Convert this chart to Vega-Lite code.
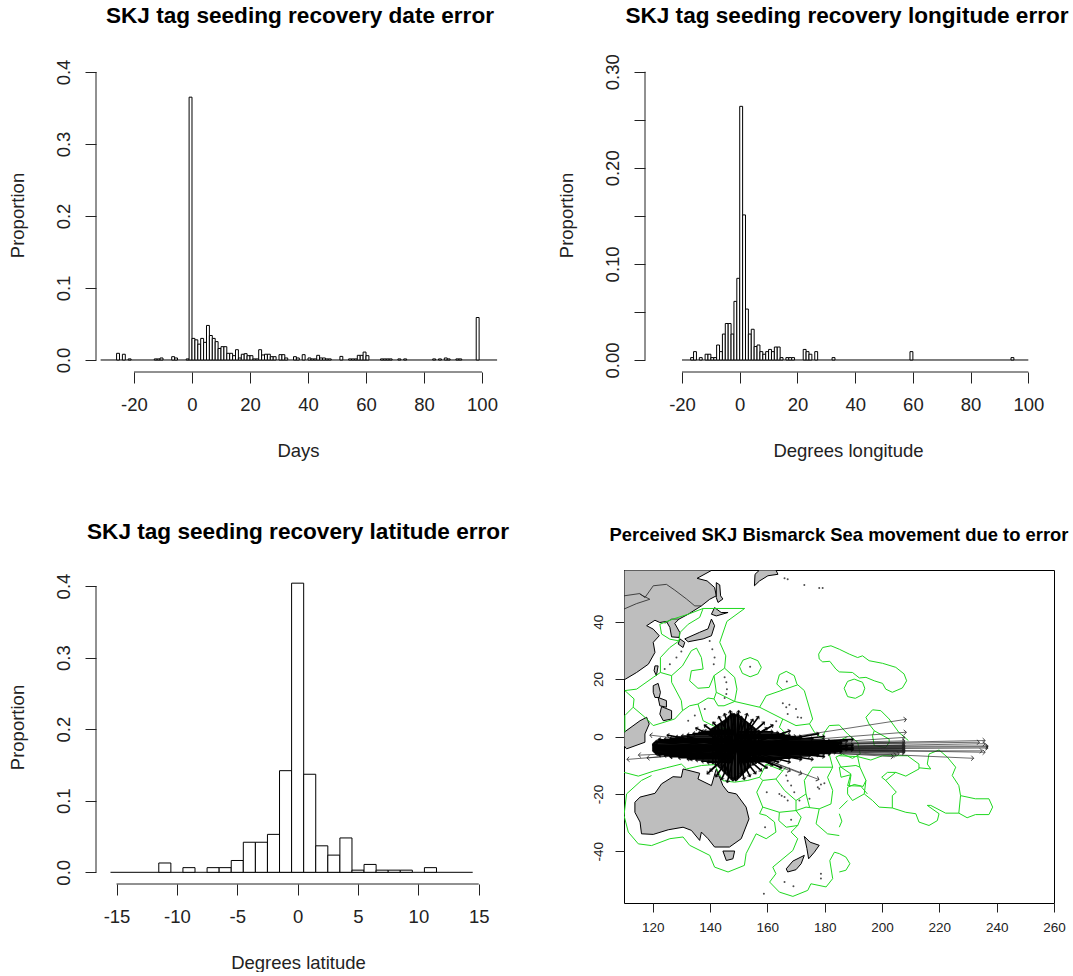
{
"$schema":"https://vega.github.io/schema/vega-lite/v6.json",
"padding":{"left":8,"top":5,"right":0,"bottom":0},
"background":"white",
"config":{"font":"Liberation Sans","view":{"stroke":null},
"axis":{"grid":false,"domain":false,"tickColor":"#222","tickSize":11,"tickWidth":1,"labelColor":"#222","titleColor":"#222","labelFont":"Liberation Sans","titleFont":"Liberation Sans","labelFontSize":18.5,"titleFontSize":18.5,"titleFontWeight":"normal","labelFlush":false,"labelOverlap":false},
"title":{"font":"Liberation Sans","fontWeight":"bold","fontSize":22.6,"color":"black","anchor":"middle"}},
"bounds":"flush",
"columns":2,
"spacing":{"row":198,"column":124},
"concat":[
{"width":404,"height":314,
"title":{"text":"SKJ tag seeding recovery date error","offset":30,"dx":2},
"encoding":{"x":{"field":"x","type":"quantitative","title":"Days","scale":{"domain":[-33.1,106.2],"nice":false,"zero":false},"axis":{"values":[-20,0,20,40,60,80,100],"labelPadding":12,"titlePadding":28,"labelExpr":"replace(datum.label,'\u2212','-')"}},
"y":{"field":"y","type":"quantitative","title":"Proportion","scale":{"domain":[-0.01667,0.4194],"nice":false,"zero":false},"axis":{"values":[0,0.1,0.2,0.3,0.4],"labelAngle":-90,"labelPadding":12,"titlePadding":26.5,"format":".1f"}}},
"layer":[
{"data":{"values":[{"x":-31.5,"xe":105.2,"y":0}]},"mark":{"type":"rule","color":"black"},"encoding":{"x2":{"field":"xe"}}},
{"data":{"values":[{"x":-26,"xe":-25,"y":0.0093},{"x":-24,"xe":-23,"y":0.008},{"x":-22,"xe":-21,"y":0.0015},{"x":-13,"xe":-12,"y":0.0015},{"x":-12,"xe":-11,"y":0.0015},{"x":-11,"xe":-10,"y":0.0028},{"x":-7,"xe":-6,"y":0.0046},{"x":-6,"xe":-5,"y":0.0028},{"x":-2,"xe":-1,"y":0.0015},{"x":-1,"xe":0,"y":0.365},{"x":0,"xe":1,"y":0.03},{"x":1,"xe":2,"y":0.028},{"x":2,"xe":3,"y":0.022},{"x":3,"xe":4,"y":0.03},{"x":4,"xe":5,"y":0.0245},{"x":5,"xe":6,"y":0.048},{"x":6,"xe":7,"y":0.034},{"x":7,"xe":8,"y":0.03},{"x":8,"xe":9,"y":0.0255},{"x":9,"xe":10,"y":0.016},{"x":10,"xe":11,"y":0.0185},{"x":11,"xe":12,"y":0.0185},{"x":12,"xe":13,"y":0.0093},{"x":13,"xe":14,"y":0.0093},{"x":14,"xe":15,"y":0.006},{"x":15,"xe":16,"y":0.0143},{"x":16,"xe":17,"y":0.0028},{"x":17,"xe":18,"y":0.008},{"x":18,"xe":19,"y":0.0088},{"x":19,"xe":20,"y":0.006},{"x":20,"xe":21,"y":0.006},{"x":21,"xe":22,"y":0.0015},{"x":22,"xe":23,"y":0.0015},{"x":23,"xe":24,"y":0.0143},{"x":24,"xe":25,"y":0.007},{"x":25,"xe":26,"y":0.008},{"x":26,"xe":27,"y":0.008},{"x":27,"xe":28,"y":0.0046},{"x":28,"xe":29,"y":0.0046},{"x":30,"xe":31,"y":0.0074},{"x":31,"xe":32,"y":0.0074},{"x":32,"xe":33,"y":0.0028},{"x":35,"xe":36,"y":0.0046},{"x":36,"xe":37,"y":0.0028},{"x":38,"xe":39,"y":0.0074},{"x":40,"xe":41,"y":0.0028},{"x":41,"xe":42,"y":0.0015},{"x":42,"xe":43,"y":0.0015},{"x":43,"xe":44,"y":0.0065},{"x":44,"xe":45,"y":0.0028},{"x":45,"xe":46,"y":0.0028},{"x":46,"xe":47,"y":0.0015},{"x":47,"xe":48,"y":0.0015},{"x":51,"xe":52,"y":0.005},{"x":54,"xe":55,"y":0.0015},{"x":55,"xe":56,"y":0.0015},{"x":56,"xe":57,"y":0.0015},{"x":57,"xe":58,"y":0.0065},{"x":58,"xe":59,"y":0.0065},{"x":59,"xe":60,"y":0.011},{"x":60,"xe":61,"y":0.006},{"x":65,"xe":66,"y":0.0015},{"x":66,"xe":67,"y":0.0015},{"x":67,"xe":68,"y":0.0015},{"x":68,"xe":69,"y":0.0015},{"x":71,"xe":72,"y":0.0015},{"x":73,"xe":74,"y":0.0015},{"x":83,"xe":84,"y":0.0015},{"x":85,"xe":86,"y":0.0015},{"x":87,"xe":88,"y":0.0028},{"x":88,"xe":89,"y":0.0015},{"x":91,"xe":92,"y":0.0015},{"x":92,"xe":93,"y":0.0015},{"x":98,"xe":99,"y":0.059}]},"mark":{"type":"rect","fill":"white","stroke":"black","strokeWidth":1},"encoding":{"x2":{"field":"xe"},"y2":{"datum":0}}},
{"data":{"values":[{"x":-20,"xe":100,"y":-0.01667}]},"mark":{"type":"rule","color":"#222"},"encoding":{"x2":{"field":"xe"}}},
{"data":{"values":[{"x":-33.1,"y":0,"ye":0.4}]},"mark":{"type":"rule","color":"#222"},"encoding":{"y2":{"field":"ye"}}}
]},
{"width":430,"height":314,
"title":{"text":"SKJ tag seeding recovery longitude error","offset":26,"dx":8},
"encoding":{"x":{"field":"x","type":"quantitative","title":"Degrees longitude","scale":{"domain":[-40.1,108.9],"nice":false,"zero":false},"axis":{"values":[-20,0,20,40,60,80,100],"labelPadding":12,"titlePadding":28,"titleX":224,"labelExpr":"replace(datum.label,'\u2212','-')"}},
"y":{"field":"y","type":"quantitative","title":"Proportion","scale":{"domain":[-0.01249,0.3143],"nice":false,"zero":false},"axis":{"offset":-21,"values":[0,0.05,0.1,0.15,0.2,0.25,0.3],"labelAngle":-90,"labelPadding":12,"titlePadding":27,"format":".2f","labelExpr":"indexof(['0.00','0.10','0.20','0.30'],datum.label)>=0?datum.label:''"}}},
"layer":[
{"data":{"values":[{"x":-20,"xe":100,"y":0}]},"mark":{"type":"rule","color":"black"},"encoding":{"x2":{"field":"xe"}}},
{"data":{"values":[{"x":-17,"xe":-16,"y":0.0025},{"x":-16,"xe":-15,"y":0.0087},{"x":-14,"xe":-13,"y":0.0025},{"x":-12,"xe":-11,"y":0.006},{"x":-11,"xe":-10,"y":0.006},{"x":-10,"xe":-9,"y":0.0025},{"x":-9,"xe":-8,"y":0.0025},{"x":-8,"xe":-7,"y":0.0156},{"x":-7,"xe":-6,"y":0.0087},{"x":-6,"xe":-5,"y":0.027},{"x":-5,"xe":-4,"y":0.038},{"x":-4,"xe":-3,"y":0.038},{"x":-3,"xe":-2,"y":0.027},{"x":-2,"xe":-1,"y":0.061},{"x":-1,"xe":0,"y":0.085},{"x":0,"xe":1,"y":0.264},{"x":1,"xe":2,"y":0.151},{"x":2,"xe":3,"y":0.053},{"x":3,"xe":4,"y":0.027},{"x":4,"xe":5,"y":0.032},{"x":5,"xe":6,"y":0.014},{"x":6,"xe":7,"y":0.0156},{"x":7,"xe":8,"y":0.0087},{"x":8,"xe":9,"y":0.006},{"x":9,"xe":10,"y":0.0087},{"x":10,"xe":11,"y":0.011},{"x":11,"xe":12,"y":0.0087},{"x":12,"xe":13,"y":0.0135},{"x":13,"xe":14,"y":0.0135},{"x":14,"xe":15,"y":0.0025},{"x":16,"xe":17,"y":0.0025},{"x":17,"xe":18,"y":0.0025},{"x":18,"xe":19,"y":0.0025},{"x":22,"xe":23,"y":0.011},{"x":23,"xe":24,"y":0.0087},{"x":24,"xe":25,"y":0.006},{"x":26,"xe":27,"y":0.0087},{"x":32,"xe":33,"y":0.0025},{"x":59,"xe":60,"y":0.0087},{"x":94,"xe":95,"y":0.0025}]},"mark":{"type":"rect","fill":"white","stroke":"black","strokeWidth":1},"encoding":{"x2":{"field":"xe"},"y2":{"datum":0}}},
{"data":{"values":[{"x":-20,"xe":100,"y":-0.01249}]},"mark":{"type":"rule","color":"#222"},"encoding":{"x2":{"field":"xe"}}},
{"data":{"values":[{"x":-32.82,"y":0,"ye":0.3}]},"mark":{"type":"rule","color":"#222"},"encoding":{"y2":{"field":"ye"}}}
]},
{"width":404,"height":314,
"title":{"text":"SKJ tag seeding recovery latitude error","offset":26},
"encoding":{"x":{"field":"x","type":"quantitative","title":"Degrees latitude","scale":{"domain":[-16.7,16.76],"nice":false,"zero":false},"axis":{"values":[-15,-10,-5,0,5,10,15],"labelPadding":12,"titlePadding":28,"labelExpr":"replace(datum.label,'\u2212','-')"}},
"y":{"field":"y","type":"quantitative","title":"Proportion","scale":{"domain":[-0.01635,0.4224],"nice":false,"zero":false},"axis":{"values":[0,0.1,0.2,0.3,0.4],"labelAngle":-90,"labelPadding":12,"titlePadding":26.5,"format":".1f"}}},
"layer":[
{"data":{"values":[{"x":-15.5,"xe":14.5,"y":0}]},"mark":{"type":"rule","color":"black"},"encoding":{"x2":{"field":"xe"}}},
{"data":{"values":[{"x":-11.5,"xe":-10.5,"y":0.013},{"x":-9.5,"xe":-8.5,"y":0.0065},{"x":-7.5,"xe":-6.5,"y":0.0065},{"x":-6.5,"xe":-5.5,"y":0.0065},{"x":-5.5,"xe":-4.5,"y":0.0165},{"x":-4.5,"xe":-3.5,"y":0.042},{"x":-3.5,"xe":-2.5,"y":0.042},{"x":-2.5,"xe":-1.5,"y":0.053},{"x":-1.5,"xe":-0.5,"y":0.142},{"x":-0.5,"xe":0.5,"y":0.404},{"x":0.5,"xe":1.5,"y":0.137},{"x":1.5,"xe":2.5,"y":0.037},{"x":2.5,"xe":3.5,"y":0.024},{"x":3.5,"xe":4.5,"y":0.048},{"x":4.5,"xe":5.5,"y":0.003},{"x":5.5,"xe":6.5,"y":0.011},{"x":6.5,"xe":7.5,"y":0.003},{"x":7.5,"xe":8.5,"y":0.003},{"x":8.5,"xe":9.5,"y":0.003},{"x":10.5,"xe":11.5,"y":0.0065}]},"mark":{"type":"rect","fill":"white","stroke":"black","strokeWidth":1},"encoding":{"x2":{"field":"xe"},"y2":{"datum":0}}},
{"data":{"values":[{"x":-15,"xe":15,"y":-0.01635}]},"mark":{"type":"rule","color":"#222"},"encoding":{"x2":{"field":"xe"}}},
{"data":{"values":[{"x":-16.7,"y":0,"ye":0.4}]},"mark":{"type":"rule","color":"#222"},"encoding":{"y2":{"field":"ye"}}}
]},
{"width":430,"height":333,
"view":{"stroke":"black","strokeWidth":1},
"title":{"text":"Perceived SKJ Bismarck Sea movement due to error","fontSize":18.4,"offset":26},
"encoding":{"x":{"field":"x","type":"quantitative","title":null,"scale":{"domain":[110,260],"nice":false,"zero":false},"axis":{"values":[120,140,160,180,200,220,240,260],"labelFontSize":13.5,"tickSize":9,"labelPadding":8}},
"y":{"field":"y","type":"quantitative","title":null,"scale":{"domain":[-58,58],"nice":false,"zero":false},"axis":{"values":[-40,-20,0,20,40],"labelFontSize":13.5,"tickSize":9,"labelAngle":-90,"labelPadding":10,"labelExpr":"replace(datum.label,'\u2212','-')"}}},
"layer":[
{"data":{"values":[
{"g":"asia","x":140.8,"y":58},{"g":"asia","x":135.5,"y":55.1},{"g":"asia","x":139,"y":54.2},{"g":"asia","x":141.6,"y":51.9},{"g":"asia","x":142.2,"y":49},{"g":"asia","x":139.9,"y":47.8},{"g":"asia","x":137,"y":45.5},{"g":"asia","x":132.4,"y":42.6},{"g":"asia","x":129.2,"y":40.9},{"g":"asia","x":127.7,"y":39.4},{"g":"asia","x":129.5,"y":36.2},{"g":"asia","x":129.2,"y":34.5},{"g":"asia","x":126.6,"y":34.7},{"g":"asia","x":126,"y":38},{"g":"asia","x":124.8,"y":40.1},{"g":"asia","x":122.5,"y":39.7},{"g":"asia","x":120.8,"y":40.5},{"g":"asia","x":117.9,"y":38.6},{"g":"asia","x":120.2,"y":37.4},{"g":"asia","x":122.3,"y":35.1},{"g":"asia","x":120.2,"y":32.8},{"g":"asia","x":120.8,"y":29.3},{"g":"asia","x":118.5,"y":25.2},{"g":"asia","x":114.4,"y":22.3},{"g":"asia","x":110,"y":19.7},{"g":"asia","x":110,"y":58},{"g":"asia","x":140.8,"y":58},
{"g":"kam","x":155.5,"y":52.5},{"g":"kam","x":155.7,"y":56.5},{"g":"kam","x":157.3,"y":58},{"g":"kam","x":163,"y":58},{"g":"kam","x":163.7,"y":56.5},{"g":"kam","x":160.2,"y":56},{"g":"kam","x":157.3,"y":54.2},{"g":"kam","x":155.5,"y":52.5},
{"g":"sak","x":142.2,"y":53.6},{"g":"sak","x":143.4,"y":52.8},{"g":"sak","x":143.7,"y":49},{"g":"sak","x":144.5,"y":47.9},{"g":"sak","x":142.8,"y":46.7},{"g":"sak","x":142.2,"y":48.4},{"g":"sak","x":142.2,"y":53.6},
{"g":"hok","x":141.6,"y":44.9},{"g":"hok","x":143.9,"y":43.2},{"g":"hok","x":146.3,"y":43.2},{"g":"hok","x":142.2,"y":42},{"g":"hok","x":140.5,"y":42.6},{"g":"hok","x":141.6,"y":44.9},
{"g":"hon","x":140.5,"y":40.9},{"g":"hon","x":141.6,"y":38.6},{"g":"hon","x":140.5,"y":35.1},{"g":"hon","x":137.6,"y":34},{"g":"hon","x":132.4,"y":33},{"g":"hon","x":131.2,"y":34},{"g":"hon","x":136.4,"y":36.3},{"g":"hon","x":139.3,"y":37.5},{"g":"hon","x":140.5,"y":40.9},
{"g":"kyu","x":129.5,"y":34},{"g":"kyu","x":131.2,"y":32.8},{"g":"kyu","x":130.6,"y":31},{"g":"kyu","x":128.9,"y":32.2},{"g":"kyu","x":129.5,"y":34},
{"g":"tai","x":120.8,"y":24.6},{"g":"tai","x":121.9,"y":24.6},{"g":"tai","x":121.3,"y":21.2},{"g":"tai","x":120.5,"y":22.9},{"g":"tai","x":120.8,"y":24.6},
{"g":"luz","x":120.2,"y":17.7},{"g":"luz","x":121.9,"y":18.5},{"g":"luz","x":122.7,"y":15.4},{"g":"luz","x":122.3,"y":13.6},{"g":"luz","x":120.8,"y":13.6},{"g":"luz","x":120.2,"y":15.4},{"g":"luz","x":120.2,"y":17.7},
{"g":"vis","x":121.9,"y":13.6},{"g":"vis","x":124.8,"y":12.5},{"g":"vis","x":124.8,"y":10.2},{"g":"vis","x":122.5,"y":10.7},{"g":"vis","x":121.9,"y":13.6},
{"g":"min","x":123.1,"y":10.4},{"g":"min","x":126.6,"y":9},{"g":"min","x":126.6,"y":6.1},{"g":"min","x":123.7,"y":5.5},{"g":"min","x":122.5,"y":7.8},{"g":"min","x":123.1,"y":10.4},
{"g":"bor","x":110,"y":1.45},{"g":"bor","x":115.6,"y":5.5},{"g":"bor","x":117.9,"y":6.7},{"g":"bor","x":118.8,"y":4.35},{"g":"bor","x":117.3,"y":0.9},{"g":"bor","x":117.3,"y":-2},{"g":"bor","x":110.9,"y":-4.3},{"g":"bor","x":110,"y":-3.2},{"g":"bor","x":110,"y":1.45},
{"g":"aus","x":113.8,"y":-22.9},{"g":"aus","x":115.6,"y":-21.1},{"g":"aus","x":120.8,"y":-19.8},{"g":"aus","x":123.1,"y":-16.5},{"g":"aus","x":127.1,"y":-14},{"g":"aus","x":130,"y":-14.2},{"g":"aus","x":130.6,"y":-11.3},{"g":"aus","x":136.4,"y":-12.8},{"g":"aus","x":135.8,"y":-14.8},{"g":"aus","x":140.5,"y":-17.1},{"g":"aus","x":142.2,"y":-11.3},{"g":"aus","x":144.5,"y":-17.1},{"g":"aus","x":146.3,"y":-19.4},{"g":"aus","x":149.2,"y":-20},{"g":"aus","x":152.6,"y":-24.6},{"g":"aus","x":153.6,"y":-28.7},{"g":"aus","x":150.9,"y":-35.6},{"g":"aus","x":146.8,"y":-38.5},{"g":"aus","x":141.6,"y":-38.5},{"g":"aus","x":139.3,"y":-35.6},{"g":"aus","x":137,"y":-33.3},{"g":"aus","x":136.4,"y":-36.2},{"g":"aus","x":133.5,"y":-32.7},{"g":"aus","x":130.6,"y":-31.6},{"g":"aus","x":125.4,"y":-32.5},{"g":"aus","x":120.2,"y":-34.1},{"g":"aus","x":116.1,"y":-33.9},{"g":"aus","x":115.6,"y":-29.8},{"g":"aus","x":113.8,"y":-26.4},{"g":"aus","x":113.8,"y":-22.9},
{"g":"tas","x":144.5,"y":-39.9},{"g":"tas","x":148.6,"y":-39.9},{"g":"tas","x":148,"y":-42.6},{"g":"tas","x":145.7,"y":-43.2},{"g":"tas","x":144.5,"y":-39.9},
{"g":"nzs","x":166.6,"y":-46.1},{"g":"nzs","x":168.9,"y":-43.4},{"g":"nzs","x":172.9,"y":-41.4},{"g":"nzs","x":171.8,"y":-44.3},{"g":"nzs","x":170,"y":-46.4},{"g":"nzs","x":167.1,"y":-47.2},{"g":"nzs","x":166.6,"y":-46.1},
{"g":"nzn","x":172.9,"y":-34.8},{"g":"nzn","x":174.9,"y":-36.8},{"g":"nzn","x":178.1,"y":-37.9},{"g":"nzn","x":176.4,"y":-40.3},{"g":"nzn","x":174.4,"y":-42.6},{"g":"nzn","x":173.8,"y":-39},{"g":"nzn","x":172.9,"y":-34.8}
]},"mark":{"type":"line","fill":"#bebebe","stroke":"black","strokeWidth":1,"clip":true},"encoding":{"detail":{"field":"g"},"order":{"value":null}}},
{"data":{"values":[
{"g":"b1","x":110,"y":49},{"g":"b1","x":115.5,"y":49.8},{"g":"b1","x":117.3,"y":48.4},{"g":"b1","x":120.2,"y":52.5},{"g":"b1","x":124.8,"y":53},{"g":"b1","x":127.7,"y":51},{"g":"b1","x":131.8,"y":47.9},{"g":"b1","x":134.7,"y":45.5},{"g":"b1","x":137,"y":45.5},
{"g":"b2","x":110,"y":44.4},{"g":"b2","x":114.4,"y":46.3},{"g":"b2","x":119,"y":47.8},{"g":"b2","x":115.5,"y":49.6},
{"g":"b3","x":129.2,"y":40.9},{"g":"b3","x":126.6,"y":40.9},{"g":"b3","x":124.2,"y":39.4}
]},"mark":{"type":"line","stroke":"#222","strokeWidth":0.8,"clip":true},"encoding":{"detail":{"field":"g"},"order":{"value":null}}},
{"data":{"values":[
{"g":"1","x":137.6,"y":44.6},{"g":"1","x":152.1,"y":44.6},{"g":"1","x":145.9,"y":40.1},{"g":"1","x":143.4,"y":32.8},{"g":"1","x":145.5,"y":28.1},{"g":"1","x":145.1,"y":23.8},{"g":"1","x":141.4,"y":21.2},
{"g":"2","x":145.1,"y":23.8},{"g":"2","x":148.6,"y":20.6},{"g":"2","x":149.4,"y":16.5},{"g":"2","x":148.6,"y":12.2},{"g":"2","x":144.9,"y":10.7},{"g":"2","x":142.8,"y":10.7},{"g":"2","x":141.4,"y":13.1},{"g":"2","x":142.2,"y":15.4},{"g":"2","x":141.4,"y":21.2},
{"g":"3","x":142.2,"y":15.4},{"g":"3","x":148.6,"y":12.2},
{"g":"4","x":141.4,"y":21.2},{"g":"4","x":139.7,"y":17.1},{"g":"4","x":135.8,"y":16.8},{"g":"4","x":132.9,"y":19.4},{"g":"4","x":133.5,"y":22.9},{"g":"4","x":137.6,"y":23.5},{"g":"4","x":137,"y":27.5},{"g":"4","x":135.3,"y":30.8},{"g":"4","x":133.5,"y":29.9},{"g":"4","x":130.4,"y":24.6},{"g":"4","x":126.6,"y":21.2},
{"g":"5","x":126.6,"y":21.2},{"g":"5","x":122.7,"y":22.3},{"g":"5","x":122.7,"y":27.5},{"g":"5","x":126,"y":31},{"g":"5","x":129.2,"y":33.3},{"g":"5","x":129.5,"y":36.2},{"g":"5","x":132.4,"y":39.1},{"g":"5","x":136.4,"y":41.5},{"g":"5","x":137.6,"y":44.6},
{"g":"6","x":137.6,"y":44.6},{"g":"6","x":132.4,"y":42.6},{"g":"6","x":127.1,"y":40.9},{"g":"6","x":122.5,"y":39.1},{"g":"6","x":123.1,"y":35.7},{"g":"6","x":126,"y":33.9},{"g":"6","x":129.2,"y":33.3},
{"g":"7","x":122.7,"y":22.3},{"g":"7","x":120.2,"y":20.6},{"g":"7","x":114.4,"y":16.5},{"g":"7","x":110.3,"y":16},
{"g":"8","x":110.3,"y":16},{"g":"8","x":113.5,"y":13.1},{"g":"8","x":113.2,"y":10.2},{"g":"8","x":110.3,"y":7.3},{"g":"8","x":110.3,"y":1.5},
{"g":"9","x":113.2,"y":10.2},{"g":"9","x":117.3,"y":6.7},{"g":"9","x":120.2,"y":3.8},{"g":"9","x":127.7,"y":6.1},{"g":"9","x":130.4,"y":9},{"g":"9","x":130,"y":12.5},{"g":"9","x":126.6,"y":18.9},{"g":"9","x":126.6,"y":21.2},
{"g":"10","x":130.4,"y":9},{"g":"10","x":132.9,"y":10.7},{"g":"10","x":135.8,"y":11.3},{"g":"10","x":139.3,"y":13.4},{"g":"10","x":141.4,"y":13.1},
{"g":"11","x":135.8,"y":11.3},{"g":"11","x":137.6,"y":5.5},{"g":"11","x":142.2,"y":3.2},{"g":"11","x":146.3,"y":2.6},
{"g":"12","x":148.6,"y":12.2},{"g":"12","x":157.3,"y":10.2},{"g":"12","x":165.4,"y":6.1},{"g":"12","x":164.2,"y":3.2},{"g":"12","x":166.6,"y":0.9},
{"g":"13","x":157.3,"y":10.2},{"g":"13","x":159.6,"y":14.2},{"g":"13","x":165.4,"y":16.2},{"g":"13","x":170.6,"y":18},{"g":"13","x":172.9,"y":16},{"g":"13","x":175.8,"y":6.1},{"g":"13","x":174.7,"y":4.4},{"g":"13","x":170,"y":3.8},{"g":"13","x":165.4,"y":6.1},
{"g":"14","x":165.4,"y":16.2},{"g":"14","x":163.3,"y":18.3},{"g":"14","x":164.2,"y":21.5},{"g":"14","x":166.6,"y":22.7},{"g":"14","x":169.4,"y":21.2},{"g":"14","x":170.3,"y":18.3},{"g":"14","x":170.6,"y":18},
{"g":"15","x":150.3,"y":24.3},{"g":"15","x":151.5,"y":26.6},{"g":"15","x":154,"y":27.5},{"g":"15","x":156.7,"y":26.4},{"g":"15","x":157.9,"y":24.1},{"g":"15","x":156.7,"y":21.8},{"g":"15","x":154,"y":20.8},{"g":"15","x":151.3,"y":22},{"g":"15","x":150.3,"y":24.3},
{"g":"16","x":185.1,"y":30.4},{"g":"16","x":188.6,"y":28.7},{"g":"16","x":191.5,"y":27.5},{"g":"16","x":193.2,"y":28.1},{"g":"16","x":195.5,"y":26.4},{"g":"16","x":200.2,"y":25.5},{"g":"16","x":204.8,"y":24.1},{"g":"16","x":207.7,"y":21.8},{"g":"16","x":208.6,"y":19.4},{"g":"16","x":207.1,"y":16.9},{"g":"16","x":203.6,"y":15.4},{"g":"16","x":201.3,"y":16.5},{"g":"16","x":200.2,"y":18.5},{"g":"16","x":197.3,"y":19.4},{"g":"16","x":194.4,"y":20.6},{"g":"16","x":192.1,"y":20.4},{"g":"16","x":189.7,"y":22.3},{"g":"16","x":185.1,"y":22.5},{"g":"16","x":183.9,"y":23.5},{"g":"16","x":181.8,"y":26.2},{"g":"16","x":179.3,"y":26},{"g":"16","x":178.1,"y":27},{"g":"16","x":177.9,"y":28.7},{"g":"16","x":179.3,"y":31},{"g":"16","x":182.2,"y":31.6},{"g":"16","x":185.1,"y":30.4},
{"g":"17","x":186.8,"y":16.8},{"g":"17","x":188,"y":19.2},{"g":"17","x":190.3,"y":20},{"g":"17","x":193.2,"y":18.9},{"g":"17","x":194,"y":16.8},{"g":"17","x":193.2,"y":14.6},{"g":"17","x":190.7,"y":13.3},{"g":"17","x":188,"y":13.9},{"g":"17","x":186.8,"y":16.8},
{"g":"18","x":194.4,"y":6.7},{"g":"18","x":196.7,"y":9.3},{"g":"18","x":199.6,"y":9},{"g":"18","x":202.5,"y":6.1},{"g":"18","x":205.9,"y":1.4},{"g":"18","x":209.2,"y":-1.4},
{"g":"19","x":194.4,"y":6.7},{"g":"19","x":195.5,"y":4.3},{"g":"19","x":197.3,"y":2},{"g":"19","x":202.5,"y":-0.9},{"g":"19","x":202.5,"y":-2},{"g":"19","x":201.3,"y":-3.8},{"g":"19","x":197.3,"y":-3.2},{"g":"19","x":196.7,"y":0.3},{"g":"19","x":197.3,"y":2},
{"g":"20","x":179.9,"y":1.4},{"g":"20","x":181.6,"y":3.8},{"g":"20","x":185.1,"y":4},{"g":"20","x":188,"y":0.9},{"g":"20","x":191.5,"y":-2},{"g":"20","x":192.4,"y":-6.1},{"g":"20","x":189.7,"y":-7.6},{"g":"20","x":186.2,"y":-6.1},{"g":"20","x":183.9,"y":-7.2},{"g":"20","x":185.7,"y":-10.7},{"g":"20","x":189.1,"y":-13},{"g":"20","x":188,"y":-17.1},{"g":"20","x":192.6,"y":-17.3},{"g":"20","x":194.9,"y":-20},
{"g":"21","x":185.1,"y":-6.7},{"g":"21","x":191.5,"y":-7},{"g":"21","x":196.1,"y":-8.2},{"g":"21","x":200.2,"y":-6.7},{"g":"21","x":204.2,"y":-6.7},{"g":"21","x":208.9,"y":-6.7},{"g":"21","x":212.9,"y":-9.6},{"g":"21","x":212.9,"y":-11.3},{"g":"21","x":208.3,"y":-13.8},{"g":"21","x":204.8,"y":-12.5},{"g":"21","x":201.3,"y":-15.3},{"g":"21","x":199.9,"y":-14.2},{"g":"21","x":201.9,"y":-12.5},{"g":"21","x":204.8,"y":-12.5},
{"g":"22","x":191.5,"y":-7},{"g":"22","x":192.3,"y":-10.7},{"g":"22","x":194.4,"y":-15.3},{"g":"22","x":193.8,"y":-20},{"g":"22","x":196.7,"y":-22.3},{"g":"22","x":199,"y":-24.6},{"g":"22","x":203.6,"y":-24.9},{"g":"22","x":208.3,"y":-26.4},{"g":"22","x":211.8,"y":-26.9},{"g":"22","x":212.9,"y":-29.8},{"g":"22","x":216.4,"y":-31},{"g":"22","x":219.3,"y":-29.3},{"g":"22","x":219.9,"y":-26.9},{"g":"22","x":215.8,"y":-24},{"g":"22","x":217,"y":-24},{"g":"22","x":222.2,"y":-26.7},{"g":"22","x":226.8,"y":-26.7},{"g":"22","x":227.4,"y":-20.6},{"g":"22","x":232.6,"y":-21.7},{"g":"22","x":237.3,"y":-21.7},{"g":"22","x":238.6,"y":-24.6},{"g":"22","x":237.3,"y":-27.2},{"g":"22","x":232.6,"y":-27.2},{"g":"22","x":229.7,"y":-28.3},{"g":"22","x":226.8,"y":-26.7},
{"g":"23","x":227.4,"y":-20.6},{"g":"23","x":226.8,"y":-17.1},{"g":"23","x":224.5,"y":-13.6},{"g":"23","x":225.7,"y":-10.7},{"g":"23","x":222.8,"y":-7.2},{"g":"23","x":219.9,"y":-4.7},{"g":"23","x":216.4,"y":-6.1},{"g":"23","x":215.8,"y":-9.6},{"g":"23","x":217,"y":-11.3},{"g":"23","x":212.9,"y":-10.9},
{"g":"24","x":203.6,"y":-24.9},{"g":"24","x":203.6,"y":-20.6},{"g":"24","x":205,"y":-19.4},{"g":"24","x":201.3,"y":-15.3},
{"g":"25","x":193.8,"y":-20},{"g":"25","x":189.7,"y":-22.3},{"g":"25","x":188,"y":-20},{"g":"25","x":188,"y":-17.7},{"g":"25","x":190.3,"y":-16.7},{"g":"25","x":193.4,"y":-17.4},{"g":"25","x":194.4,"y":-15.3},
{"g":"26","x":185.1,"y":-10.7},{"g":"26","x":190.9,"y":-10.1},{"g":"26","x":192.3,"y":-10.7},
{"g":"27","x":185.1,"y":-10.7},{"g":"27","x":185.7,"y":-14.2},{"g":"27","x":189.2,"y":-13.3},{"g":"27","x":188.6,"y":-17.1},
{"g":"28","x":188,"y":-22.3},{"g":"28","x":185.1,"y":-25.2},
{"g":"29","x":185.1,"y":-26.9},{"g":"29","x":186,"y":-29.5},{"g":"29","x":185.1,"y":-31.6},
{"g":"30","x":185.1,"y":-40.8},{"g":"30","x":187.4,"y":-42},{"g":"30","x":188.8,"y":-44.3},{"g":"30","x":187.4,"y":-46.6},{"g":"30","x":185.1,"y":-47.2},
{"g":"31","x":110,"y":-12.5},{"g":"31","x":115,"y":-13.8},{"g":"31","x":120.2,"y":-12.1},{"g":"31","x":124.8,"y":-10.9},{"g":"31","x":130,"y":-9.6},{"g":"31","x":131.8,"y":-11.3},{"g":"31","x":137,"y":-10.1},{"g":"31","x":141.6,"y":-9.8},{"g":"31","x":144.5,"y":-15.4},{"g":"31","x":148.6,"y":-15.9},{"g":"31","x":153.2,"y":-15.3},{"g":"31","x":157.3,"y":-14.2},
{"g":"32","x":119.6,"y":-13.6},{"g":"32","x":116.1,"y":-15.3},{"g":"32","x":110.9,"y":-20},{"g":"32","x":110,"y":-27.5},{"g":"32","x":111.5,"y":-33.3},{"g":"32","x":115,"y":-37.4},{"g":"32","x":119.6,"y":-38},{"g":"32","x":126,"y":-35.6},{"g":"32","x":130.6,"y":-35},{"g":"32","x":132.9,"y":-37.9},{"g":"32","x":139.9,"y":-41.4},{"g":"32","x":141.6,"y":-45.5},{"g":"32","x":146.3,"y":-47.2},{"g":"32","x":152,"y":-44.9},{"g":"32","x":152.6,"y":-40.8},{"g":"32","x":156.1,"y":-33.9},{"g":"32","x":159.6,"y":-35.6},{"g":"32","x":163,"y":-33.3},{"g":"32","x":162.5,"y":-29.8},{"g":"32","x":159.6,"y":-27.5},{"g":"32","x":157.3,"y":-26.9},{"g":"32","x":158.4,"y":-24.6},{"g":"32","x":156.3,"y":-19.4},{"g":"32","x":158.4,"y":-15.3},{"g":"32","x":157.3,"y":-14.2},
{"g":"33","x":158.4,"y":-15.3},{"g":"33","x":163,"y":-14.8},{"g":"33","x":166,"y":-18.8},{"g":"33","x":170,"y":-22.3},{"g":"33","x":173.5,"y":-20},{"g":"33","x":172.9,"y":-15.3},{"g":"33","x":175.8,"y":-10.7},{"g":"33","x":182.8,"y":-10.7},
{"g":"34","x":158.4,"y":-24.6},{"g":"34","x":164.2,"y":-26.4},{"g":"34","x":170,"y":-25.8},{"g":"34","x":173.5,"y":-24.6},{"g":"34","x":178.1,"y":-25.2},{"g":"34","x":182.2,"y":-23.5},{"g":"34","x":182.8,"y":-18.8},{"g":"34","x":181,"y":-14.2},{"g":"34","x":182.8,"y":-10.7},{"g":"34","x":181.6,"y":-6.1},
{"g":"35","x":170,"y":-22.3},{"g":"35","x":170,"y":-25.8},
{"g":"35b","x":173.5,"y":-20},{"g":"35b","x":174.7,"y":-24.6},
{"g":"36","x":157.3,"y":-14.2},{"g":"36","x":159.6,"y":-9.6},{"g":"36","x":165.4,"y":-11.9},{"g":"36","x":163,"y":-14.8},
{"g":"36b","x":165.4,"y":-11.9},{"g":"36b","x":166.6,"y":-10.7},
{"g":"37","x":164.2,"y":-26.4},{"g":"37","x":164,"y":-29.3},{"g":"37","x":166.6,"y":-31.6},{"g":"37","x":170.6,"y":-31},{"g":"37","x":171.8,"y":-28.1},{"g":"37","x":170,"y":-25.8},
{"g":"38","x":170.6,"y":-31},{"g":"38","x":168.3,"y":-33.3},{"g":"38","x":170.6,"y":-35.6},{"g":"38","x":168.9,"y":-39.7},{"g":"38","x":161.9,"y":-45.5},{"g":"38","x":163,"y":-47.8},{"g":"38","x":160.8,"y":-50.7},{"g":"38","x":164.2,"y":-54.2},{"g":"38","x":168.9,"y":-55.7},{"g":"38","x":174.1,"y":-53.6},{"g":"38","x":175.2,"y":-51.3},{"g":"38","x":180.5,"y":-52.4},{"g":"38","x":182.8,"y":-49.5},{"g":"38","x":181.8,"y":-43.2},{"g":"38","x":183.4,"y":-40.3},{"g":"38","x":185.1,"y":-40.8},
{"g":"39","x":178.1,"y":-25.2},{"g":"39","x":177,"y":-30.4},{"g":"39","x":181,"y":-33.9},{"g":"39","x":185.1,"y":-34.5},
{"g":"40","x":179.3,"y":-0.8},{"g":"40","x":176.4,"y":1.5},{"g":"40","x":174.7,"y":4.4},
{"g":"41","x":179.9,"y":-2.6},{"g":"41","x":182.8,"y":-2.6},{"g":"41","x":188,"y":0},
{"g":"42","x":179.9,"y":1.4},{"g":"42","x":179.3,"y":-0.8}
]},"mark":{"type":"line","stroke":"#1fd81f","strokeWidth":1,"clip":true},"encoding":{"detail":{"field":"g"},"order":{"value":null}}},
{"data":{"values":[{"x":154,"y":24.3},{"x":166.8,"y":19.2},{"x":172.9,"y":52.8},{"x":178.1,"y":51.7},{"x":179.3,"y":51.7},{"x":166,"y":55.1},{"x":167.1,"y":54.8},{"x":139.9,"y":33.3},{"x":140.8,"y":30.4},{"x":141.6,"y":27.5},{"x":141.3,"y":25.2},{"x":145.1,"y":20.6},{"x":145.7,"y":18.9},{"x":145.9,"y":16.5},{"x":145.7,"y":14.8},{"x":145.1,"y":13.4},{"x":130,"y":29.6},{"x":128.3,"y":27.5},{"x":126,"y":25.2},{"x":124.2,"y":23.5},{"x":165.4,"y":11.6},{"x":166.6,"y":10.2},{"x":167.7,"y":11.1},{"x":170,"y":9.6},{"x":167.1,"y":7.8},{"x":170.6,"y":6.7},{"x":171.8,"y":6.5},{"x":163.1,"y":5.3},{"x":134.7,"y":7.3},{"x":132.4,"y":5.5},{"x":138.2,"y":9.6},{"x":159.8,"y":-19.4},{"x":159.2,"y":-31.6},{"x":166,"y":-50.7},{"x":169.1,"y":-52.2},{"x":178.7,"y":-47.8},{"x":178.7,"y":-49.5},{"x":158.8,"y":-54.8},{"x":168.3,"y":-29},{"x":164.2,"y":-20},{"x":165,"y":-20.6},{"x":166,"y":-21.1},{"x":167.1,"y":-22.3},{"x":166.6,"y":-13.6},{"x":167.1,"y":-15.4},{"x":168.3,"y":-17.1},{"x":169.4,"y":-19.4},{"x":171.2,"y":-22.3},{"x":174.7,"y":-21.7},{"x":177.6,"y":-17.7},{"x":178.7,"y":-16.7},{"x":179.9,"y":-16.3},{"x":178.1,"y":-18.2}]},"mark":{"type":"point","filled":true,"color":"black","size":4,"clip":true}},
{"data":{"name":"far","values":[
{"x":150,"y":-3,"xe":236,"ye":-1.4,"a":89},{"x":150,"y":-4,"xe":236,"ye":-2.5,"a":89},{"x":149,"y":-3.5,"xe":237,"ye":-3.3,"a":90},{"x":150,"y":-4.5,"xe":237,"ye":-4,"a":90},{"x":150,"y":-5,"xe":235,"ye":-5,"a":90},{"x":149,"y":-4,"xe":236,"ye":-5.5,"a":91},{"x":151,"y":-4,"xe":232,"ye":-7.6,"a":93},{"x":150,"y":-3,"xe":234,"ye":-2,"a":89},{"x":150,"y":-4,"xe":237,"ye":-3.6,"a":90},
{"x":150,"y":-3,"xe":208.5,"ye":6,"a":81},{"x":150,"y":-3,"xe":208.5,"ye":1.5,"a":86},{"x":152,"y":-4,"xe":208,"ye":-0.3,"a":86},
{"x":150,"y":-3,"xe":208,"ye":-1.5,"a":89},{"x":149,"y":-3.5,"xe":208,"ye":-2,"a":89},{"x":151,"y":-3,"xe":208,"ye":-2.5,"a":90},{"x":150,"y":-4,"xe":208,"ye":-3,"a":89},{"x":148,"y":-4,"xe":208,"ye":-3.2,"a":89},{"x":150,"y":-4,"xe":208,"ye":-3.5,"a":90},{"x":152,"y":-4,"xe":208,"ye":-3.7,"a":90},{"x":149,"y":-4,"xe":208,"ye":-4,"a":90},{"x":151,"y":-4.5,"xe":208,"ye":-4,"a":90},{"x":150,"y":-5,"xe":208,"ye":-4.2,"a":89},{"x":148,"y":-4,"xe":208,"ye":-4.4,"a":90},{"x":150,"y":-4,"xe":208,"ye":-4.6,"a":91},{"x":152,"y":-5,"xe":208,"ye":-4.8,"a":90},{"x":149,"y":-4.5,"xe":208,"ye":-5,"a":90},{"x":151,"y":-5,"xe":208,"ye":-5.2,"a":90},{"x":150,"y":-4,"xe":208,"ye":-5.4,"a":91},{"x":148,"y":-5,"xe":208,"ye":-5.6,"a":91},{"x":150,"y":-4,"xe":206,"ye":-6,"a":92},{"x":149,"y":-5,"xe":205,"ye":-6.5,"a":92},{"x":151,"y":-4,"xe":204,"ye":-7,"a":93},
{"x":149,"y":-4,"xe":178,"ye":-15,"a":111},{"x":149,"y":-4,"xe":172,"ye":-13,"a":111},{"x":149,"y":-4,"xe":168,"ye":-12,"a":113},{"x":148,"y":-5,"xe":111,"ye":-8,"a":265},{"x":148,"y":-5,"xe":115,"ye":-6.5,"a":267},{"x":148,"y":-5,"xe":118,"ye":-7.5,"a":265},{"x":148,"y":-3,"xe":119,"ye":0.5,"a":277}
]},"mark":{"type":"rule","color":"#222","strokeWidth":0.9,"opacity":0.75,"clip":true},"encoding":{"x2":{"field":"xe"},"y2":{"field":"ye"}}},
{"data":{"name":"far"},"mark":{"type":"point","filled":false,"color":"#222","strokeWidth":0.9,"opacity":0.9,"clip":true,"shape":"M-0.6,0.6L0,0L0.6,0.6"},"encoding":{"x":{"field":"xe","type":"quantitative"},"y":{"field":"ye","type":"quantitative"},"size":{"value":70},"angle":{"field":"a","type":"quantitative","scale":null}}},
{"data":{"name":"core","values":[
{"x":150,"y":-1.2,"xe":180,"ye":-1.2,"a":90},{"x":150,"y":-1.6,"xe":182,"ye":-1.6,"a":90},{"x":150,"y":-2,"xe":184,"ye":-2,"a":90},{"x":150,"y":-2.4,"xe":186,"ye":-2.4,"a":90},{"x":150,"y":-2.8,"xe":185,"ye":-2.8,"a":90},{"x":150,"y":-3.2,"xe":188,"ye":-3.2,"a":90},{"x":150,"y":-3.6,"xe":186,"ye":-3.6,"a":90},{"x":150,"y":-4,"xe":190,"ye":-4,"a":90},{"x":150,"y":-4.4,"xe":188,"ye":-4.4,"a":90},{"x":150,"y":-4.8,"xe":185,"ye":-4.8,"a":90},{"x":150,"y":-5.2,"xe":186,"ye":-5.2,"a":90},{"x":150,"y":-5.6,"xe":182,"ye":-5.6,"a":90},{"x":150,"y":-6,"xe":180,"ye":-6,"a":90},{"x":150,"y":-6.4,"xe":178,"ye":-6.4,"a":90},{"x":150,"y":-0.8,"xe":176,"ye":-0.8,"a":90},{"x":150,"y":-0.4,"xe":172,"ye":-0.4,"a":90},{"x":150,"y":0,"xe":170,"ye":0,"a":90},{"x":150,"y":0.4,"xe":168,"ye":0.4,"a":90},{"x":150,"y":0.8,"xe":166,"ye":0.8,"a":90},{"x":150,"y":1.2,"xe":164,"ye":1.2,"a":90},{"x":150,"y":1.6,"xe":162,"ye":1.6,"a":90},{"x":150,"y":-6.8,"xe":175,"ye":-6.8,"a":90},{"x":150,"y":-7.2,"xe":172,"ye":-7.2,"a":90},{"x":150,"y":-7.6,"xe":168,"ye":-7.6,"a":90},{"x":150,"y":-8,"xe":165,"ye":-8,"a":90},{"x":150,"y":-8.4,"xe":163,"ye":-8.4,"a":90},{"x":150,"y":-8.8,"xe":161,"ye":-8.8,"a":90},
{"x":150,"y":-3,"xe":190,"ye":-1,"a":87},{"x":150,"y":-3,"xe":188,"ye":-1.5,"a":88},{"x":149,"y":-4,"xe":186,"ye":-2,"a":87},{"x":150,"y":-4,"xe":190,"ye":-3,"a":89},{"x":151,"y":-4,"xe":188,"ye":-3.5,"a":89},{"x":150,"y":-5,"xe":185,"ye":-4,"a":88},{"x":149,"y":-4,"xe":190,"ye":-4.5,"a":91},{"x":150,"y":-4,"xe":186,"ye":-5,"a":92},{"x":150,"y":-4,"xe":184,"ye":-5.5,"a":92},{"x":151,"y":-4,"xe":182,"ye":-6,"a":94},{"x":150,"y":-4,"xe":180,"ye":-7,"a":96},{"x":149,"y":-3,"xe":180,"ye":0,"a":84},{"x":150,"y":-4,"xe":178,"ye":1,"a":80},{"x":150,"y":-4,"xe":176,"ye":-8,"a":99},{"x":150,"y":-4,"xe":172,"ye":0,"a":80},{"x":150,"y":-4,"xe":172,"ye":-8,"a":100},{"x":150,"y":-4,"xe":168,"ye":2,"a":72},{"x":150,"y":-4,"xe":168,"ye":-9,"a":105},{"x":150,"y":-4,"xe":164,"ye":1,"a":70},{"x":150,"y":-4,"xe":164,"ye":-9,"a":110},
{"x":148,"y":-1.4,"xe":122,"ye":-1.4,"a":270},{"x":148,"y":-1.8,"xe":121,"ye":-1.8,"a":270},{"x":148,"y":-2.2,"xe":120.5,"ye":-2.2,"a":270},{"x":148,"y":-2.6,"xe":120,"ye":-2.6,"a":270},{"x":148,"y":-3,"xe":120,"ye":-3,"a":270},{"x":148,"y":-3.4,"xe":120,"ye":-3.4,"a":270},{"x":148,"y":-3.8,"xe":120,"ye":-3.8,"a":270},{"x":148,"y":-4.2,"xe":120,"ye":-4.2,"a":270},{"x":148,"y":-4.6,"xe":120,"ye":-4.6,"a":270},{"x":148,"y":-5,"xe":120,"ye":-5,"a":270},{"x":148,"y":-5.4,"xe":120.5,"ye":-5.4,"a":270},{"x":148,"y":-5.8,"xe":121,"ye":-5.8,"a":270},{"x":148,"y":-6.2,"xe":122,"ye":-6.2,"a":270},{"x":148,"y":-6.6,"xe":124,"ye":-6.6,"a":270},{"x":148,"y":-1,"xe":124,"ye":-1,"a":270},{"x":148,"y":-0.6,"xe":126,"ye":-0.6,"a":270},{"x":148,"y":-0.2,"xe":128,"ye":-0.2,"a":270},{"x":148,"y":0.2,"xe":130,"ye":0.2,"a":270},{"x":148,"y":0.6,"xe":132,"ye":0.6,"a":270},{"x":148,"y":1,"xe":134,"ye":1,"a":270},{"x":148,"y":1.4,"xe":136,"ye":1.4,"a":270},{"x":148,"y":1.8,"xe":138,"ye":1.8,"a":270},{"x":148,"y":2.2,"xe":140,"ye":2.2,"a":270},{"x":148,"y":-7,"xe":126,"ye":-7,"a":270},{"x":148,"y":-7.4,"xe":129,"ye":-7.4,"a":270},{"x":148,"y":-7.8,"xe":132,"ye":-7.8,"a":270},{"x":148,"y":-8.2,"xe":135,"ye":-8.2,"a":270},{"x":148,"y":-8.6,"xe":137,"ye":-8.6,"a":270},{"x":148,"y":-9,"xe":139,"ye":-9,"a":270},
{"x":148,"y":-4,"xe":122,"ye":-1,"a":277},{"x":148,"y":-4,"xe":121,"ye":-2,"a":274},{"x":149,"y":-4,"xe":120,"ye":-3,"a":272},{"x":148,"y":-3,"xe":120.5,"ye":-3.5,"a":269},{"x":147,"y":-4,"xe":120.5,"ye":-4.5,"a":269},{"x":148,"y":-4,"xe":121,"ye":-5.5,"a":267},{"x":148,"y":-4,"xe":121,"ye":-6,"a":266},{"x":148,"y":-4,"xe":122,"ye":-6.5,"a":265},{"x":148,"y":-4,"xe":125,"ye":0.5,"a":281},{"x":148,"y":-4,"xe":126,"ye":-7,"a":262},{"x":148,"y":-4,"xe":132,"ye":0,"a":284},{"x":148,"y":-4,"xe":133,"ye":-8,"a":255},
{"x":149,"y":-4,"xe":138,"ye":4,"a":306},{"x":149,"y":-4,"xe":141,"ye":5,"a":318},{"x":149,"y":-4,"xe":143,"ye":7,"a":331},{"x":149,"y":-4,"xe":145,"ye":8,"a":342},{"x":149,"y":-4,"xe":147,"ye":9,"a":351},{"x":149,"y":-4,"xe":148,"ye":8,"a":355},{"x":149,"y":-4,"xe":150,"ye":9,"a":4},{"x":149,"y":-4,"xe":151,"ye":7,"a":10},{"x":149,"y":-4,"xe":153,"ye":8,"a":18},{"x":149,"y":-4,"xe":155,"ye":6,"a":31},{"x":149,"y":-4,"xe":157,"ye":7,"a":36},{"x":149,"y":-4,"xe":159,"ye":5,"a":48},{"x":149,"y":-4,"xe":162,"ye":4,"a":58},{"x":149,"y":-4,"xe":135,"ye":3,"a":297},{"x":149,"y":-4,"xe":137,"ye":2,"a":297},{"x":149,"y":-4,"xe":160,"ye":3,"a":58},
{"x":141,"y":-5,"xe":141,"ye":3,"a":0},{"x":141.5,"y":-5,"xe":141.5,"ye":3.3,"a":0},{"x":142,"y":-5,"xe":142,"ye":3.6,"a":0},{"x":142.5,"y":-5,"xe":142.5,"ye":4,"a":0},{"x":143,"y":-5,"xe":143,"ye":4.3,"a":0},{"x":143.5,"y":-5,"xe":143.5,"ye":4.6,"a":0},{"x":144,"y":-5,"xe":144,"ye":5,"a":0},{"x":144.5,"y":-5,"xe":144.5,"ye":5.3,"a":0},{"x":145,"y":-5,"xe":145,"ye":5.6,"a":0},{"x":145.5,"y":-5,"xe":145.5,"ye":6,"a":0},{"x":146,"y":-5,"xe":146,"ye":6.4,"a":0},{"x":146.5,"y":-5,"xe":146.5,"ye":7,"a":0},{"x":147,"y":-5,"xe":147,"ye":7.4,"a":0},{"x":147.5,"y":-5,"xe":147.5,"ye":8,"a":0},{"x":148,"y":-5,"xe":148,"ye":7.5,"a":0},{"x":148.5,"y":-5,"xe":148.5,"ye":8,"a":0},{"x":149,"y":-5,"xe":149,"ye":7.5,"a":0},{"x":149.5,"y":-5,"xe":149.5,"ye":8,"a":0},{"x":150,"y":-5,"xe":150,"ye":7.5,"a":0},{"x":150.5,"y":-5,"xe":150.5,"ye":7,"a":0},{"x":151,"y":-5,"xe":151,"ye":6.6,"a":0},{"x":151.5,"y":-5,"xe":151.5,"ye":6.2,"a":0},{"x":152,"y":-5,"xe":152,"ye":5.8,"a":0},{"x":152.5,"y":-5,"xe":152.5,"ye":5.4,"a":0},{"x":153,"y":-5,"xe":153,"ye":5,"a":0},{"x":153.5,"y":-5,"xe":153.5,"ye":4.6,"a":0},{"x":154,"y":-5,"xe":154,"ye":4.2,"a":0},{"x":154.5,"y":-5,"xe":154.5,"ye":3.8,"a":0},{"x":155,"y":-5,"xe":155,"ye":3.4,"a":0},{"x":155.5,"y":-5,"xe":155.5,"ye":3,"a":0},{"x":156,"y":-5,"xe":156,"ye":2.6,"a":0},{"x":157,"y":-5,"xe":157,"ye":2.2,"a":0},
{"x":141,"y":-3,"xe":141,"ye":-9.5,"a":180},{"x":142,"y":-3,"xe":142,"ye":-10,"a":180},{"x":143,"y":-3,"xe":143,"ye":-10.5,"a":180},{"x":143.5,"y":-3,"xe":143.5,"ye":-11,"a":180},{"x":144,"y":-3,"xe":144,"ye":-11.5,"a":180},{"x":144.5,"y":-3,"xe":144.5,"ye":-12,"a":180},{"x":145,"y":-3,"xe":145,"ye":-12.5,"a":180},{"x":145.5,"y":-3,"xe":145.5,"ye":-13,"a":180},{"x":146,"y":-3,"xe":146,"ye":-13.5,"a":180},{"x":146.5,"y":-3,"xe":146.5,"ye":-14,"a":180},{"x":147,"y":-3,"xe":147,"ye":-14.5,"a":180},{"x":147.5,"y":-3,"xe":147.5,"ye":-15,"a":180},{"x":148,"y":-3,"xe":148,"ye":-15.5,"a":180},{"x":148.5,"y":-3,"xe":148.5,"ye":-15,"a":180},{"x":149,"y":-3,"xe":149,"ye":-15.5,"a":180},{"x":149.5,"y":-3,"xe":149.5,"ye":-15,"a":180},{"x":150,"y":-3,"xe":150,"ye":-14.5,"a":180},{"x":150.5,"y":-3,"xe":150.5,"ye":-14,"a":180},{"x":151,"y":-3,"xe":151,"ye":-13.5,"a":180},{"x":151.5,"y":-3,"xe":151.5,"ye":-13,"a":180},{"x":152,"y":-3,"xe":152,"ye":-12.5,"a":180},{"x":152.5,"y":-3,"xe":152.5,"ye":-12,"a":180},{"x":153,"y":-3,"xe":153,"ye":-11.5,"a":180},{"x":153.5,"y":-3,"xe":153.5,"ye":-11,"a":180},{"x":154,"y":-3,"xe":154,"ye":-10.5,"a":180},{"x":155,"y":-3,"xe":155,"ye":-10,"a":180},{"x":156,"y":-3,"xe":156,"ye":-9.5,"a":180},{"x":157,"y":-3,"xe":157,"ye":-9.2,"a":180},
{"x":149,"y":-4,"xe":140,"ye":-12,"a":228},{"x":149,"y":-4,"xe":142,"ye":-14,"a":215},{"x":149,"y":-4,"xe":144,"ye":-15,"a":204},{"x":149,"y":-4,"xe":146,"ye":-16,"a":194},{"x":149,"y":-4,"xe":152,"ye":-15,"a":165},{"x":149,"y":-4,"xe":154,"ye":-14,"a":153},{"x":149,"y":-4,"xe":156,"ye":-13,"a":142},{"x":149,"y":-4,"xe":158,"ye":-12,"a":132},{"x":149,"y":-4,"xe":160,"ye":-11,"a":122},{"x":149,"y":-4,"xe":162,"ye":-10,"a":115},{"x":149,"y":-4,"xe":139,"ye":-13,"a":228},{"x":149,"y":-4,"xe":165,"ye":-11,"a":114}
]},"mark":{"type":"rule","color":"black","strokeWidth":1.6,"clip":true},"encoding":{"x2":{"field":"xe"},"y2":{"field":"ye"}}},
{"data":{"name":"core"},"mark":{"type":"point","filled":false,"color":"black","strokeWidth":1.2,"clip":true,"shape":"M-0.6,0.6L0,0L0.6,0.6"},"encoding":{"x":{"field":"xe","type":"quantitative"},"y":{"field":"ye","type":"quantitative"},"size":{"value":50},"angle":{"field":"a","type":"quantitative","scale":null}}}
]}
]
}
